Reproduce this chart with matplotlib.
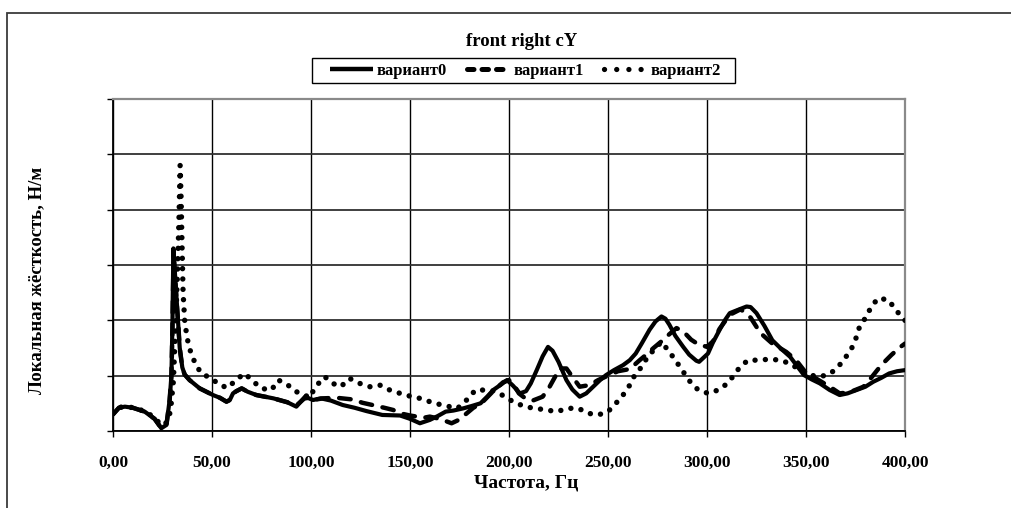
import matplotlib
matplotlib.use("Agg")
import matplotlib.pyplot as plt
from matplotlib.patches import Rectangle
from matplotlib.lines import Line2D

# ---- data ----
title = "front right cY"
x_label = "Частота, Гц"
y_label = "Локальная жёсткость, Н/м"
series_names = ["вариант0", "вариант1", "вариант2"]
x_ticks = [0, 50, 100, 150, 200, 250, 300, 350, 400]
x_tick_labels = ["0,00", "50,00", "100,00", "150,00", "200,00", "250,00", "300,00", "350,00", "400,00"]
y_ticks = [0, 1, 2, 3, 4, 5, 6]

f0 = [0, 3, 6, 10, 16, 21, 24.4, 27, 28.6, 29.5, 30.0, 30.5, 31.2, 32, 33, 33.7, 35, 36.2, 38.7, 43.8,
      50.5, 54, 57.3, 59, 60.6, 62.3, 65, 68, 72.4, 81, 88, 92.6, 97, 101, 105, 110, 116, 122, 128, 136,
      145, 150, 155, 160, 164, 168, 172, 177, 181, 185.6, 189, 192, 196, 199, 202, 205.5, 208.6, 211, 214, 217,
      219.7, 222, 225, 229, 232, 235.7, 239, 242.5, 246, 249, 253, 257.6, 261, 264, 267, 271, 274, 277, 279, 281,
      284, 288, 291, 294.6, 296, 300.5, 303, 306.4, 309, 311.5, 315, 320, 322, 325, 329, 333, 337, 342, 346, 349,
      353, 357, 362, 367, 371, 375.5, 380, 384, 388, 392, 396, 400]
v0 = [0.30, 0.42, 0.44, 0.42, 0.35, 0.22, 0.05, 0.11, 0.56, 1.0, 1.9, 3.3, 2.9, 2.45, 1.9, 1.5, 1.15, 1.02, 0.92, 0.77,
      0.65, 0.60, 0.53, 0.56, 0.68, 0.72, 0.77, 0.71, 0.65, 0.59, 0.52, 0.44, 0.62, 0.56, 0.59, 0.55, 0.47, 0.42, 0.36, 0.29,
      0.28, 0.22, 0.14, 0.20, 0.27, 0.35, 0.37, 0.41, 0.45, 0.50, 0.62, 0.74, 0.84, 0.92, 0.82, 0.68, 0.72, 0.86, 1.10, 1.35,
      1.52, 1.45, 1.25, 0.92, 0.75, 0.62, 0.68, 0.80, 0.92, 1.01, 1.10, 1.19, 1.28, 1.40, 1.58, 1.83, 1.98, 2.07, 2.03, 1.92,
      1.72, 1.52, 1.38, 1.27, 1.25, 1.40, 1.60, 1.83, 2.00, 2.13, 2.18, 2.25, 2.24, 2.13, 1.90, 1.64, 1.50, 1.34, 1.15, 1.01,
      0.93, 0.86, 0.74, 0.65, 0.68, 0.74, 0.80, 0.89, 0.96, 1.04, 1.08, 1.10]

f1 = [0, 3, 6, 10, 16, 21, 24.4, 27, 28.6, 29.5, 30.0, 30.6, 31.3, 32, 33, 33.7, 35, 36.2, 38.7, 43.8,
      50.5, 54, 57.3, 59, 60.6, 62.3, 65, 68, 72.4, 81, 88, 92.6, 97, 101, 106, 113, 121, 126, 131, 137,
      141.5, 145, 150, 157, 160, 165, 171, 174, 177, 182, 186, 192, 197, 200, 203, 205, 208.6, 212, 217, 220.5,
      225.6, 229, 232, 235.7, 240.7, 245, 250, 255, 261, 266, 270, 273, 277, 281, 284.6, 288, 292, 295, 300, 303,
      306.4, 311.5, 317, 322, 327, 333, 340, 345, 350, 355, 362, 367, 372, 379, 382, 388, 393, 397, 400]
v1 = [0.30, 0.42, 0.44, 0.42, 0.35, 0.22, 0.05, 0.11, 0.56, 1.0, 1.8, 3.2, 2.8, 2.4, 1.9, 1.5, 1.15, 1.02, 0.92, 0.77,
      0.65, 0.60, 0.53, 0.56, 0.68, 0.72, 0.77, 0.71, 0.65, 0.59, 0.52, 0.46, 0.60, 0.56, 0.59, 0.60, 0.57, 0.51, 0.47, 0.42,
      0.38, 0.32, 0.28, 0.24, 0.26, 0.22, 0.14, 0.19, 0.27, 0.42, 0.50, 0.72, 0.88, 0.92, 0.80, 0.68, 0.58, 0.55, 0.62, 0.80,
      1.13, 1.13, 0.98, 0.80, 0.83, 0.92, 1.00, 1.08, 1.12, 1.28, 1.40, 1.50, 1.62, 1.75, 1.86, 1.80, 1.65, 1.58, 1.52, 1.62,
      1.85, 2.10, 2.20, 2.05, 1.77, 1.58, 1.43, 1.28, 1.05, 0.95, 0.80, 0.68, 0.70, 0.80, 0.92, 1.19, 1.37, 1.50, 1.58]

f2 = [0, 3, 6, 10, 16, 21, 24.5, 27, 29, 30.5, 31.5, 32.5, 33.3, 33.9, 34.4, 34.9, 35.4, 36.2, 37, 38,
      39.7, 42, 44.6, 49.7, 54, 58, 62.3, 66.5, 71, 75, 80, 83.5, 87.6, 92.6, 97, 99, 103, 107, 111, 115,
      119.5, 124.6, 129.7, 134.7, 139.8, 145, 150, 155, 160, 166, 174, 179.5, 183, 188, 193, 198, 202, 208, 213, 219,
      224, 230, 235, 240, 245, 250, 254, 257.6, 261, 263.5, 267, 270, 273, 277, 281, 284.6, 288, 291.5, 295.6, 300.6,
      305.6, 310, 313, 316.5, 320.7, 326.6, 331.7, 336.7, 342, 347, 352, 357, 362, 366, 369.6, 373, 375.5, 377, 380.5, 383,
      386.5, 391.5, 394.8, 398, 400]
v2 = [0.32, 0.42, 0.45, 0.42, 0.36, 0.24, 0.10, 0.15, 0.35, 0.90, 1.80, 2.80, 3.80, 4.80, 4.20, 3.30, 2.50, 2.00, 1.79, 1.58,
      1.37, 1.19, 1.04, 0.95, 0.83, 0.78, 0.93, 1.04, 0.89, 0.77, 0.74, 0.92, 0.85, 0.71, 0.65, 0.60, 0.83, 0.98, 0.86, 0.80,
      0.95, 0.86, 0.80, 0.83, 0.74, 0.68, 0.63, 0.59, 0.53, 0.47, 0.41, 0.59, 0.74, 0.74, 0.72, 0.62, 0.53, 0.44, 0.41, 0.38,
      0.35, 0.41, 0.41, 0.32, 0.29, 0.35, 0.50, 0.65, 0.83, 1.01, 1.16, 1.34, 1.46, 1.61, 1.43, 1.25, 1.07, 0.89, 0.74, 0.68,
      0.74, 0.85, 0.98, 1.15, 1.28, 1.28, 1.30, 1.28, 1.22, 1.10, 1.01, 0.98, 1.03, 1.15, 1.31, 1.49, 1.70, 1.88, 2.07, 2.25,
      2.40, 2.37, 2.22, 2.07, 2.00]

# ---- figure ----
W, H = 1011, 508
fig = plt.figure(figsize=(W / 100, H / 100), dpi=100)
fig.patch.set_facecolor("white")
serif = ["Liberation Serif", "DejaVu Serif"]

# outer chart frame (partially visible)
fig.add_artist(Rectangle((7 / W, -0.05), 1.2, (1 - 13 / H) + 0.05, transform=fig.transFigure,
                         fill=False, edgecolor="#3a3a3a", lw=1.3))

left, right, top, bottom = 113 / W, 905 / W, 99 / H, 431 / H
ax = fig.add_axes([left, 1 - bottom, right - left, bottom - top])

ax.plot(f0, v0, color="black", lw=3.0, solid_joinstyle="round", solid_capstyle="round", zorder=5,
        label=series_names[0])
ax.plot(f1, v1, color="black", lw=3.2, linestyle=(0, (2.6, 2.4)), dash_capstyle="round", zorder=4,
        label=series_names[1])
ax.plot(f2, v2, color="black", lw=3.9, linestyle=(0, (0.01, 1.9)), dash_capstyle="round", zorder=3,
        label=series_names[2])

ax.set_xlim(0, 400)
ax.set_ylim(0, 6)
ax.set_xticks(x_ticks)
ax.set_xticklabels(x_tick_labels)
ax.set_yticks(y_ticks)
ax.set_yticklabels([])

for lab in ax.get_xticklabels():
    lab.set_fontfamily(serif)
    lab.set_fontweight("bold")
    lab.set_fontsize(12.5)
ax.tick_params(axis="x", direction="out", length=4, width=1, pad=13, colors="black")
ax.tick_params(axis="y", direction="out", length=4, width=1)

ax.yaxis.grid(True, color="#303030", lw=1.3)
ax.xaxis.grid(True, color="black", lw=1.0)
ax.set_axisbelow(True)

for s in ("left", "bottom"):
    ax.spines[s].set_color("black")
    ax.spines[s].set_linewidth(1.3)
for s in ("top", "right"):
    ax.spines[s].set_color("#8a8a8a")
    ax.spines[s].set_linewidth(1.6)

ax.set_xlabel(x_label, fontfamily=serif, fontweight="bold", fontsize=14, va="center")
ax.xaxis.set_label_coords((526 - 113) / 792, (431 - 483) / 332)
ax.set_ylabel(y_label, fontfamily=serif, fontweight="bold", fontsize=13.5, va="center")
ax.yaxis.set_label_coords((37 - 113) / 792, (431 - 280) / 332)

ax.set_title(title, fontfamily=serif, fontweight="bold", fontsize=13.5, pad=0,
             x=(522 - 113) / 792, y=(431 - 42) / 332, va="center")

# legend box drawn separately so that horizontal padding can match
fig.add_artist(Rectangle((312 / W, 1 - 83 / H), (735 - 312) / W, 25 / H, transform=fig.transFigure,
                         facecolor="white", edgecolor="black", lw=1.0, zorder=9))
handles = [
    Line2D([], [], color="black", lw=3.2, solid_capstyle="butt"),
    Line2D([], [], color="black", lw=3.6, linestyle=(0, (1.3, 1.6)), dash_capstyle="round"),
    Line2D([], [], color="black", lw=3.8, linestyle=(0, (0.01, 2.3)), dash_capstyle="round"),
]
leg = fig.legend(handles, series_names, loc="center", ncol=3,
                 bbox_to_anchor=(525.5 / W, 1 - 70.7 / H), bbox_transform=fig.transFigure,
                 prop={"family": serif, "weight": "bold", "size": 12},
                 frameon=False, handlelength=2.6, handletextpad=0.2, columnspacing=1.2,
                 borderpad=0.0, borderaxespad=0)
leg.set_zorder(10)

fig.savefig("out.png", dpi=100, facecolor="white")
